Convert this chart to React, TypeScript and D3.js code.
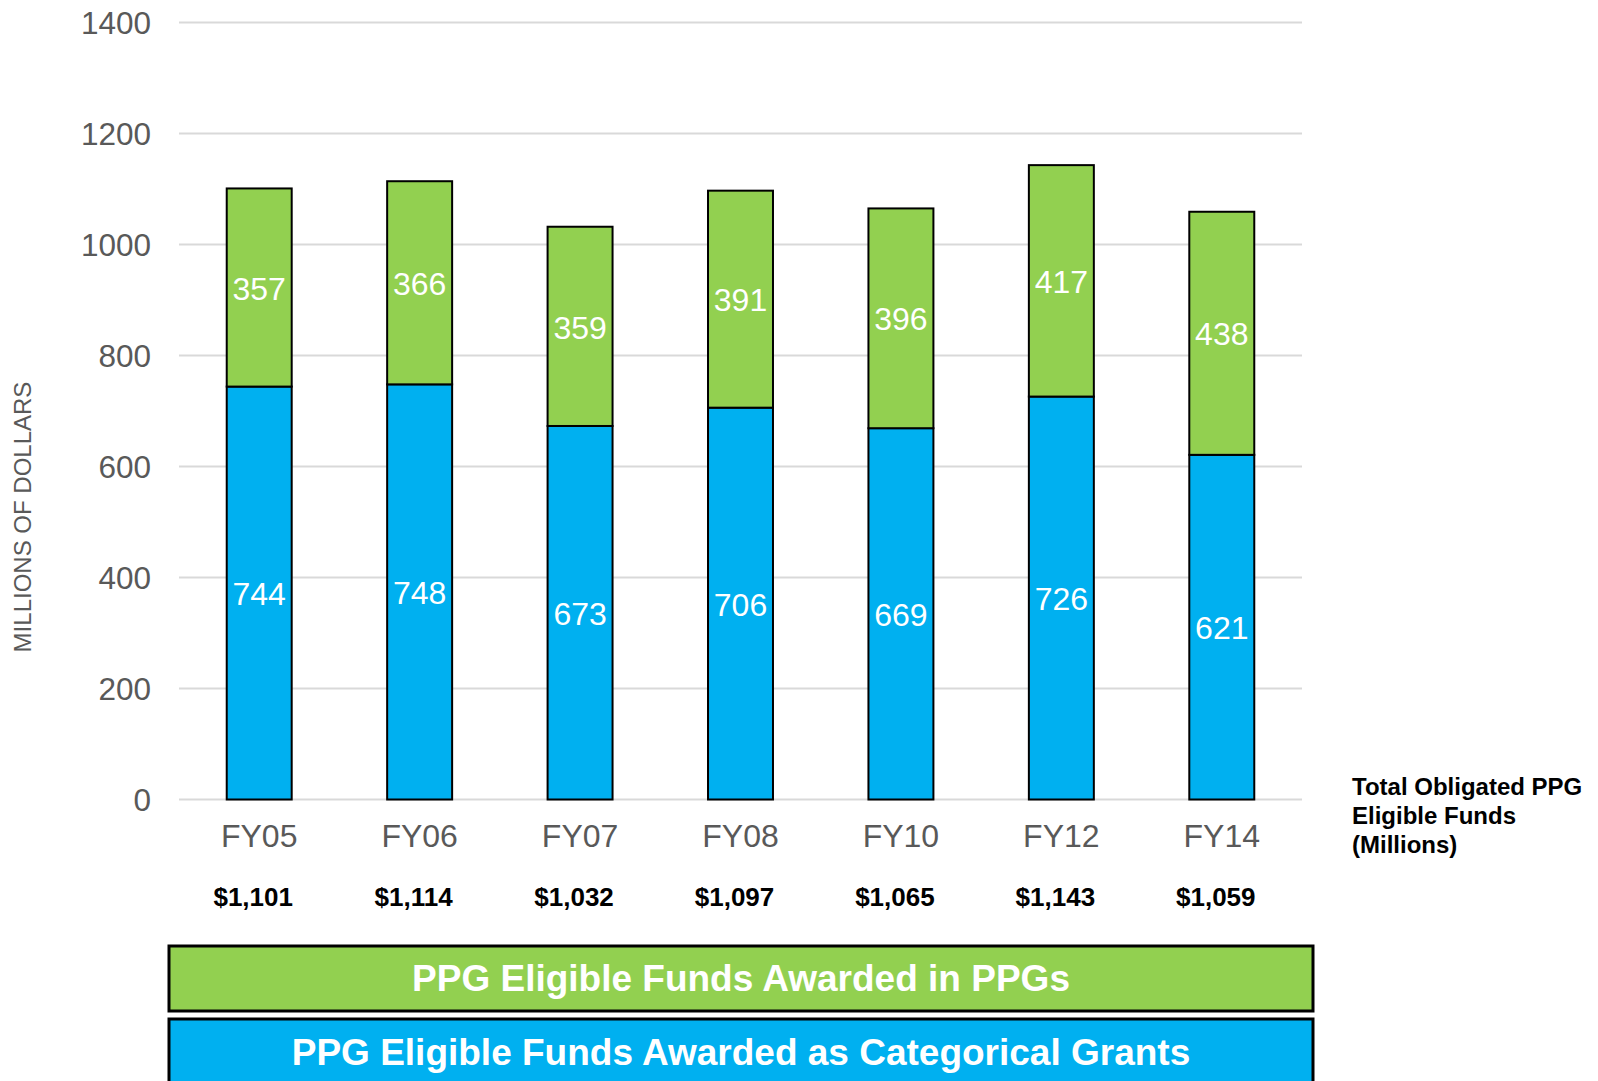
import React from "react";
import * as d3 from "d3";

const categories = ["FY05", "FY06", "FY07", "FY08", "FY10", "FY12", "FY14"];
const categoricalGrants = [744, 748, 673, 706, 669, 726, 621];
const ppgAwards = [357, 366, 359, 391, 396, 417, 438];
const totals = ["$1,101", "$1,114", "$1,032", "$1,097", "$1,065", "$1,143", "$1,059"];
const yTicks = [0, 200, 400, 600, 800, 1000, 1200, 1400];

const W = 1598;
const H = 1081;
const GREEN = "#92D050";
const BLUE = "#00B0F0";
const FONT = "'Liberation Sans', Arial, sans-serif";

export default function App() {
  const x = d3.scaleBand<string>().domain(categories).range([179, 1302]).paddingInner(0.595).paddingOuter(0.2975);
  const y = d3.scaleLinear().domain([0, 1400]).range([799.5, 22.5]);
  const bw = x.bandwidth();

  return (
    <svg width={W} height={H} style={{ position: "absolute", left: 0, top: 0, background: "#fff" }} fontFamily={FONT}>
      {yTicks.map((t) => (
        <g key={t}>
          <line x1={179} x2={1302} y1={y(t)} y2={y(t)} stroke="#d9d9d9" strokeWidth={2} />
          <text x={151} y={y(t)} dy="0.35em" textAnchor="end" fontSize={31.5} fill="#595959">{t}</text>
        </g>
      ))}
      <text transform={`translate(31,517) rotate(-90)`} textAnchor="middle" fontSize={24} fill="#595959">MILLIONS OF DOLLARS</text>

      {categories.map((c, i) => {
        const x0 = x(c)!;
        const cx = x0 + bw / 2;
        const b = categoricalGrants[i];
        const g = ppgAwards[i];
        return (
          <g key={c}>
            <rect x={x0} y={y(b)} width={bw} height={y(0) - y(b)} fill={BLUE} stroke="#000" strokeWidth={2} />
            <rect x={x0} y={y(b + g)} width={bw} height={y(b) - y(b + g)} fill={GREEN} stroke="#000" strokeWidth={2} />
            <text x={cx} y={y(b / 2)} dy="0.38em" textAnchor="middle" fontSize={32} fill="#fff">{b}</text>
            <text x={cx} y={y(b + g / 2)} dy="0.38em" textAnchor="middle" fontSize={32} fill="#fff">{g}</text>
            <text x={cx} y={847} textAnchor="middle" fontSize={32} fill="#595959">{c}</text>
            <text x={cx - 6} y={906} textAnchor="middle" fontSize={26} fontWeight="bold" fill="#000">{totals[i]}</text>
          </g>
        );
      })}

      <text x={1352} y={795} fontSize={24} fontWeight="bold" fill="#000">
        <tspan x={1352} dy={0}>Total Obligated PPG</tspan>
        <tspan x={1352} dy={29}>Eligible Funds</tspan>
        <tspan x={1352} dy={29}>(Millions)</tspan>
      </text>

      <rect x={169} y={946} width={1144} height={65} fill={GREEN} stroke="#000" strokeWidth={3} />
      <text x={741} y={991} textAnchor="middle" fontSize={37} fontWeight="bold" fill="#fff">PPG Eligible Funds Awarded in PPGs</text>
      <rect x={169} y={1019} width={1144} height={80} fill={BLUE} stroke="#000" strokeWidth={3} />
      <text x={741} y={1065} textAnchor="middle" fontSize={37} fontWeight="bold" fill="#fff">PPG Eligible Funds Awarded as Categorical Grants</text>
    </svg>
  );
}
